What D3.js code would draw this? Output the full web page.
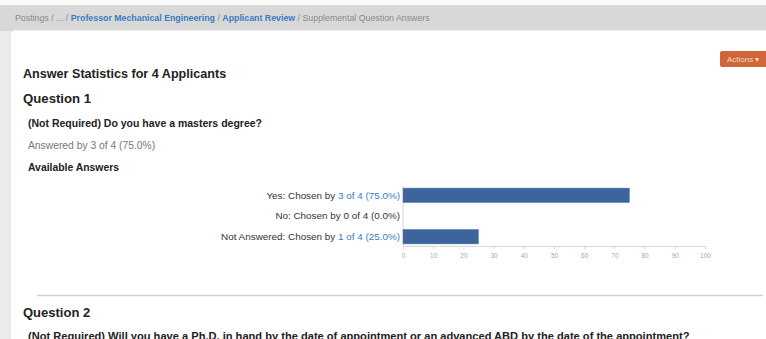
<!DOCTYPE html>
<html>
<head>
<meta charset="utf-8">
<script src="https://cdn.jsdelivr.net/npm/d3@7"></script>
<style>
  body { margin: 0; background: #fff; }
  svg { display: block; font-family: "Liberation Sans", Arial, sans-serif; }
</style>
</head>
<body>
<div id="chart"></div>
<script>

// answer categories and chosen counts
var answers = ["Yes", "No", "Not Answered"];
var chosen = [3, 0, 1];
var total = 4;
var percents = [75.0, 0.0, 25.0];
var xTicks = [0, 10, 20, 30, 40, 50, 60, 70, 80, 90, 100];

var crumbs = [
	{ text: "Postings", link: false },
	{ text: " / ... / ", link: false },
	{ text: "Professor Mechanical Engineering", link: true },
	{ text: " / ", link: false },
	{ text: "Applicant Review", link: true },
	{ text: " / ", link: false },
	{ text: "Supplemental Question Answers", link: false }
];

var W = 766, H = 339;

var svg = d3.select("#chart")
	.append("svg")
	.attr("width", W)
	.attr("height", H);

/* page frame */
svg.append("rect").attr("x", 0).attr("y", 0).attr("width", W).attr("height", H).attr("fill", "#ececec");
svg.append("rect").attr("x", 0).attr("y", 0).attr("width", W).attr("height", 5).attr("fill", "#fafafa");
svg.append("rect").attr("x", 0).attr("y", 5).attr("width", W).attr("height", 26).attr("fill", "#d8d8d8");

svg.append("rect")
	.attr("x", 10).attr("y", 30)
	.attr("width", W).attr("height", H)
	.attr("rx", 5)
	.attr("fill", "#fff")
	.attr("stroke", "#dcdcdc");

// breadcrumb
var bc = svg.append("text")
	.attr("x", 15).attr("y", 21)
	.style("font-size", "8.8px");

bc.selectAll("tspan")
	.data(crumbs)
	.join("tspan")
	.attr("fill", d => d.link ? "#3a7cc2" : "#8a8a8a")
	.style("font-weight", d => d.link ? "bold" : "normal")
	.text(d => d.text);

// actions button
svg.append("rect")
	.attr("x", 720).attr("y", 51)
	.attr("width", 50).attr("height", 16)
	.attr("rx", 2)
	.attr("fill", "#d0673a");

svg.append("text")
	.attr("x", 727).attr("y", 62)
	.attr("fill", "#f6d8c8")
	.style("font-size", "8px")
	.text("Actions \u25BE");

/* headings */
svg.append("text")
	.attr("x", 23).attr("y", 78)
	.attr("fill", "#222")
	.style("font-size", "12.6px")
	.style("font-weight", "bold")
	.text("Answer Statistics for " + total + " Applicants");

svg.append("text")
	.attr("x", 23).attr("y", 103)
	.attr("fill", "#222")
	.style("font-size", "13.2px")
	.style("font-weight", "bold")
	.text("Question 1");

svg.append("text")
	.attr("x", 28).attr("y", 127)
	.attr("fill", "#222")
	.style("font-size", "10.5px")
	.style("font-weight", "bold")
	.text("(Not Required) Do you have a masters degree?");

svg.append("text")
	.attr("x", 28).attr("y", 149)
	.attr("fill", "#777")
	.style("font-size", "10.3px")
	.text("Answered by 3 of 4 (75.0%)");

svg.append("text")
	.attr("x", 28).attr("y", 171)
	.attr("fill", "#222")
	.style("font-size", "10.4px")
	.style("font-weight", "bold")
	.text("Available Answers");

/* bar chart */
var margin = { top: 186, left: 403 },
	width = 302,
	height = 60;

var g = svg.append("g")
	.attr("transform", "translate(" + margin.left + "," + margin.top + ")");

var x = d3.scaleLinear()
	.domain([0, 100])
	.range([0, width]);

var y = d3.scaleBand()
	.domain(answers)
	.range([0, height])
	.paddingInner(0.3)
	.paddingOuter(0.1);

var data = answers.map((a, i) => ({ answer: a, count: chosen[i], pct: percents[i] }));

// x axis
var xAxis = g.append("g")
	.attr("transform", "translate(0," + height + ")")
	.call(d3.axisBottom(x).tickValues(xTicks).tickSize(3).tickSizeOuter(0));

xAxis.select(".domain").attr("stroke", "#d6d6d6");
xAxis.selectAll(".tick line").attr("stroke", "#d6d6d6");
xAxis.selectAll(".tick text")
	.attr("fill", "#a8a8a8")
	.attr("dy", "0.9em")
	.style("font-size", "6.5px");

// vertical axis line
g.append("line")
	.attr("x1", 0).attr("x2", 0)
	.attr("y1", 0).attr("y2", height)
	.attr("stroke", "#d6d6d6");

g.selectAll("rect.bar")
	.data(data)
	.join("rect")
	.attr("class", "bar")
	.attr("x", 0)
	.attr("y", d => y(d.answer))
	.attr("width", d => x(d.pct))
	.attr("height", y.bandwidth())
	.attr("fill", "#3c659c")
	.attr("stroke", "#5b80b3")
	.attr("stroke-width", 0.5);

// answer labels
var labels = g.selectAll("text.lbl")
	.data(data)
	.join("text")
	.attr("class", "lbl")
	.attr("x", -3)
	.attr("y", d => y(d.answer) + y.bandwidth() / 2)
	.attr("dy", "0.35em")
	.attr("text-anchor", "end")
	.style("font-size", "9.9px")
	.attr("fill", "#333");

labels.append("tspan")
	.text(d => d.answer + ": Chosen by ");

labels.append("tspan")
	.attr("fill", d => d.count > 0 ? "#3a7cc2" : "#333")
	.text(d => d.count + " of " + total + " (" + d.pct.toFixed(1) + "%)");

/* separator and next question */
svg.append("line")
	.attr("x1", 37).attr("x2", 763)
	.attr("y1", 295.5).attr("y2", 295.5)
	.attr("stroke", "#d0d0d0")
	.attr("stroke-width", 1.5);

svg.append("text")
	.attr("x", 23).attr("y", 317)
	.attr("fill", "#222")
	.style("font-size", "13px")
	.style("font-weight", "bold")
	.text("Question 2");

svg.append("text")
	.attr("x", 28).attr("y", 340)
	.attr("fill", "#222")
	.style("font-size", "11.1px")
	.style("font-weight", "bold")
	.text("(Not Required) Will you have a Ph.D. in hand by the date of appointment or an advanced ABD by the date of the appointment?");

</script>
</body>
</html>
